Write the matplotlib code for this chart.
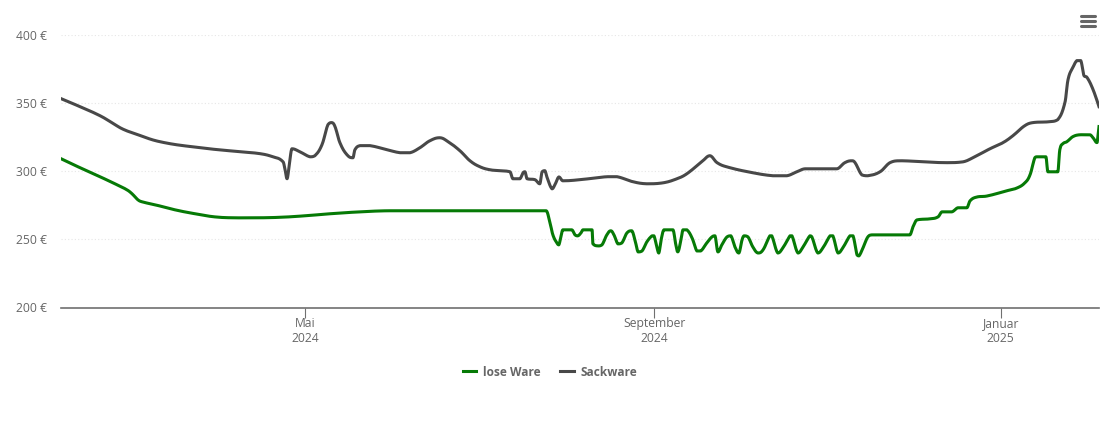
import matplotlib
matplotlib.use('Agg')
import matplotlib.pyplot as plt
import numpy as np
from matplotlib.lines import Line2D

plt.rcParams['font.family'] = ['Open Sans', 'DejaVu Sans']

# x = days since 1 May 2024, y = euro
lose_days = [-85.9, -79.2, -72.2, -66.9, -62.7, -60.9, -58.8, -57.4, -52.8, -45.8, -38.7, -31.7, -24.6, -17.6, -8.8,
             0, 8.8, 19.4, 29.9, 84.9, 86.3, 87.3, 88.7, 89.4, 90.1, 90.8, 94.0, 95.1, 96.1, 97.2, 97.9, 101.1,
             101.4, 103.2, 104.6, 106.3, 107.7, 108.8, 110.2, 111.6, 113.4, 115.1, 116.2, 117.3, 118.7, 120.4,
             122.2, 122.9, 123.9, 124.6, 125.4, 126.4, 129.6, 130.6, 131.3, 132.4, 133.1, 134.5, 136.3, 138.0,
             139.4, 141.5, 143.3, 144.4, 145.4, 146.8, 148.6, 150.0, 151.4, 152.8, 153.9, 154.6, 156.0, 157.7,
             159.5, 161.3, 163.7, 164.4, 166.5, 168.3, 170.8, 171.5, 173.6, 175.4, 177.8, 178.5, 180.6, 182.4,
             184.9, 185.9, 187.7, 189.4, 191.9, 193.0, 194.4, 195.1, 196.5, 198.2, 199.6, 202.5, 213.0, 214.1,
             215.5, 220.1, 222.9, 224.3, 227.8, 229.9, 233.1, 234.2, 236.6, 240.1, 247.2, 250.7, 253.5, 255.3,
             257.0, 257.7, 260.9, 261.6, 265.1, 265.8, 266.9, 268.3, 270.4, 272.9, 276.4, 277.5, 278.9, 279.2,
             279.6]
lose_price = [309.2, 302.6, 296.0, 290.8, 286.4, 283.5, 279.0, 277.6, 275.4, 271.7, 268.8, 266.5, 265.8, 265.8, 266.2,
              267.3, 268.8, 270.2, 271, 271, 262.1, 253.3, 247.4, 246, 251.8, 257, 257, 253.3, 252.6, 254.8, 257, 257,
              246.7, 245.2, 246, 253.3, 256.3, 253.3, 246.7, 247.4, 254.8, 256.3, 249.6, 240.8, 241.5, 248.2,
              252.6, 252.6, 244.5, 240, 249.6, 257, 257, 246, 240.8, 249.6, 257, 257, 251.1, 241.5,
              241.5, 247.4, 251.8, 252.6, 240.8, 246, 251.8, 252.6, 244.5, 240, 249.6, 252.6, 251.8, 244.5,
              240, 242.3, 252.6, 252.6, 240, 243.8, 252.6, 252.6, 240, 244.5, 252.6, 251.8, 240, 243.8,
              252.6, 252.6, 240, 243.8, 252.6, 252.6, 238.6, 237.9, 243.8, 251.8, 253.3, 253.3, 253.3, 259.2,
              264.3, 265.1, 266.5, 270.2, 270.2, 273.2, 273.2, 278.3, 281.1, 281.8, 285.7, 287.7, 291.5, 297.3,
              309.9, 310.6, 310.6, 299.6, 299.6, 315.8, 320.2, 321.7, 325.4, 326.8, 326.8, 324.6, 321, 325.4,
              332.8]

sack_days = [-85.9, -79.2, -72.2, -68.0, -64.4, -59.9, -51.1, -37.0, -22.9, -15.8, -11.3, -7.7, -7.0, -6.3, -5.6,
             -4.6, -1.8, 1.8, 3.5, 6.0, 8.1, 9.5, 10.6, 12.3, 14.8, 16.9, 17.6, 19.4, 22.9, 28.9, 33.5, 37.0,
             40.5, 44.0, 47.5, 50.4, 54.6, 58.1, 61.6, 65.1, 68.7, 72.2, 73.2, 75.7, 76.8, 77.5, 78.2, 81.0,
             82.7, 83.5, 84.5, 85.2, 87.0, 88.0, 89.4, 90.8, 96.8, 106.3, 109.9, 115.5, 120.4, 126.1, 131.0,
             134.5, 140.1, 142.6, 145.1, 148.6, 157.7, 164.8, 169.7, 173.2, 176.1, 187.3, 190.1, 192.6, 193.7,
             196.1, 198.2, 202.5, 206.0, 209.5, 217.6, 226.1, 231.7, 235.2, 241.2, 245.8, 249.3, 253.5, 256.3,
             262.3, 265.1, 267.6, 268.7, 270.4, 271.8, 273.2, 274.3, 275.4, 277.5, 279.6]
sack_price = [353.3, 347.4, 340.8, 335.7, 331.2, 327.6, 321.7, 317.3, 314.3, 312.9, 310.6, 306.9, 301.1, 294.5, 303.3,
              316.5, 314.3, 310.6, 311.4, 319.5, 334.2, 335.7, 332.7, 321, 312.1, 309.9, 315.8, 318.8, 318.8, 315.8,
              313.6, 313.6, 317.3, 322.4, 324.6, 321.7, 315, 307.7, 303.3, 301.1, 300.4, 299.6, 294.5, 294.5,
              298.9, 299.6, 294.5, 293.8, 290.8, 299.6, 300.4, 295.8, 287.1, 290, 295.8, 293, 293.8, 296, 296,
              292.3, 290.8, 291.5, 294.5, 298.2, 307.7, 311.4, 306.3, 303.2, 298.9, 296.7, 296.7, 299.6, 301.8,
              301.8, 306.3, 307.7, 306.3, 297.3, 296.7, 299.6, 306.3, 307.7, 306.9, 306.3, 306.9, 309.9, 316.5,
              321, 326.1, 333.5, 335.7, 336.4, 337.9, 350.4, 367.3, 376.1, 381.2, 381.2, 370.2, 368.8, 360, 347.4]

x_ticks = [0, 123, 245]
x_labels = ['Mai\n2024', 'September\n2024', 'Januar\n2025']
y_ticks = [200, 250, 300, 350, 400]
y_labels = ['200 €', '250 €', '300 €', '350 €', '400 €']


def spline(xs, ys, n=12):
    # bezier through the points, same idea as a web chart "spline" line; only rounds the drawing
    xs, ys = np.asarray(xs, float), np.asarray(ys, float)
    out_x, out_y = [xs[0]], [ys[0]]
    rx, ry = xs.copy(), ys.copy()
    lx, ly = xs.copy(), ys.copy()
    for i in range(1, len(xs) - 1):
        lx[i] = (1.5 * xs[i] + xs[i - 1]) / 2.5
        ly[i] = (1.5 * ys[i] + ys[i - 1]) / 2.5
        rx[i] = (1.5 * xs[i] + xs[i + 1]) / 2.5
        ry[i] = (1.5 * ys[i] + ys[i + 1]) / 2.5
        if rx[i] != lx[i]:
            cor = ((ry[i] - ly[i]) * (rx[i] - xs[i])) / (rx[i] - lx[i]) + ys[i] - ry[i]
            ly[i] += cor
            ry[i] += cor
        # no overshoot past the neighbours
        ly[i] = np.clip(ly[i], min(ys[i - 1], ys[i]), max(ys[i - 1], ys[i]))
        ry[i] = np.clip(ry[i], min(ys[i + 1], ys[i]), max(ys[i + 1], ys[i]))
    t = np.linspace(0, 1, n + 1)[1:]
    for i in range(len(xs) - 1):
        out_x.extend((1 - t) ** 3 * xs[i] + 3 * (1 - t) ** 2 * t * rx[i] + 3 * (1 - t) * t ** 2 * lx[i + 1] + t ** 3 * xs[i + 1])
        out_y.extend((1 - t) ** 3 * ys[i] + 3 * (1 - t) ** 2 * t * ry[i] + 3 * (1 - t) * t ** 2 * ly[i + 1] + t ** 3 * ys[i + 1])
    return out_x, out_y


W, H = 1110, 422
fig = plt.figure(figsize=(W / 100, H / 100), dpi=100)
ax = fig.add_axes([61 / W, 1 - 307.5 / H, 1038 / W, 272.5 / H])

ax.plot(*spline(lose_days, lose_price), color='#067a06', lw=2.2, solid_joinstyle='round', label='lose Ware')
ax.plot(*spline(sack_days, sack_price), color='#484848', lw=2.2, solid_joinstyle='round', label='Sackware')

ax.set_xlim(-85.9, 279.6)
ax.set_ylim(200, 400)
ax.set_xticks(x_ticks, x_labels)
ax.set_yticks(y_ticks, y_labels)
ax.yaxis.grid(True, color='#e6e6e6', lw=0.8, ls=(0, (1, 2)))
ax.set_axisbelow(True)

for s in ['top', 'right', 'left']:
    ax.spines[s].set_visible(False)
ax.spines['bottom'].set_color('#707070')
ax.spines['bottom'].set_linewidth(1.2)
ax.tick_params(axis='x', length=7, width=0.8, color='#707070', labelcolor='#666666', labelsize=8.7, pad=0)
ax.tick_params(axis='y', length=0, labelcolor='#666666', labelsize=8.7, pad=10)
for lab in ax.get_xticklabels():
    lab.set_linespacing(1.15)

leg = ax.legend(loc='center', bbox_to_anchor=(550 / W, 1 - 372 / H), bbox_transform=fig.transFigure,
                ncol=2, frameon=False, handlelength=1.15, handletextpad=0.55, columnspacing=1.65,
                prop={'size': 8.6, 'weight': 'bold'}, labelcolor='#666666')

# hamburger menu
for yy in [16, 21, 26]:
    fig.add_artist(Line2D([1081 / W, 1095 / W], [1 - yy / H, 1 - yy / H], color='#666666', lw=2.2,
                          solid_capstyle='round'))

fig.savefig('out.png', dpi=100)
